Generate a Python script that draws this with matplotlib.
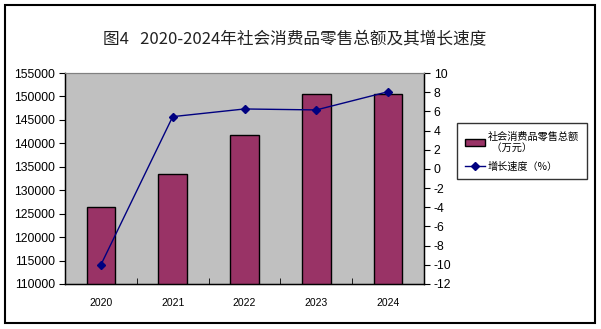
import numpy as np
import matplotlib.pyplot as plt
from matplotlib.patches import Rectangle
plt.rcParams['font.family'] = ['Liberation Sans', 'Noto Sans CJK SC', 'DejaVu Sans']
plt.rcParams['axes.unicode_minus'] = False

years = ["2020", "2021", "2022", "2023", "2024"]
sales = [126400, 133400, 141700, 150500, 150500]
growth = [-10.0, 5.45, 6.25, 6.15, 8.05]

W, H = 601, 329
fig = plt.figure(figsize=(W / 100, H / 100), dpi=100)

# outer frame
fig.patches.append(Rectangle((5 / W, 6 / H), 590 / W, 318 / H, transform=fig.transFigure,
                             fill=False, edgecolor="black", linewidth=1.5))

fig.text(295 / W, 1 - 40 / H, "图4   2020-2024年社会消费品零售总额及其增长速度",
         ha="center", va="center", fontsize=12, color="#222222",
         family=['Noto Sans CJK SC', 'DejaVu Sans'], fontweight="light")

ax = fig.add_axes([65 / W, 1 - 284 / H, (424 - 65) / W, (284 - 73) / H])
ax.set_facecolor("#C0C0C0")
x = np.arange(len(years))
bars = ax.bar(x, sales, width=0.4, color="#993366", edgecolor="black", linewidth=1,
              label="社会消费品零售总额\n  （万元）", zorder=2)
ax.set_xlim(-0.5, len(years) - 0.5)
ax.set_ylim(110000, 155000)
ax.set_yticks(np.arange(110000, 155001, 5000))
ax.set_xticks(x)
ax.set_xticklabels(years, fontsize=7.5)
ax.set_xticks(np.arange(0.5, len(years) - 1, 1), minor=True)
ax.tick_params(axis="x", which="major", length=0, pad=10)
ax.tick_params(axis="x", which="minor", direction="in", length=4)
ax.tick_params(axis="y", labelsize=8.7, length=4, pad=3)
ax.spines["top"].set_color("#808080")
for s in ["left", "bottom", "right"]:
    ax.spines[s].set_linewidth(1)

ax2 = ax.twinx()
line, = ax2.plot(x, growth, color="#000080", marker="D", markersize=4.5, linewidth=1,
                 label="增长速度（%）", zorder=3)
ax2.set_ylim(-12, 10)
ax2.set_yticks(np.arange(-12, 11, 2))
ax2.tick_params(axis="y", labelsize=8.7, length=4, pad=3)
ax2.spines["top"].set_color("#808080")

leg = fig.legend(handles=[bars, line], loc="upper left",
                 bbox_to_anchor=(457 / W, 1 - 123 / H),
                 prop={'family': ['Noto Sans CJK SC', 'DejaVu Sans'], 'size': 7.3},
                 frameon=True, fancybox=False, edgecolor="black", handlelength=2.0,
                 borderpad=0.8, labelspacing=0.8, handletextpad=0.2, borderaxespad=0)
leg.get_frame().set_linewidth(1)

fig.savefig("out.png", dpi=100)
